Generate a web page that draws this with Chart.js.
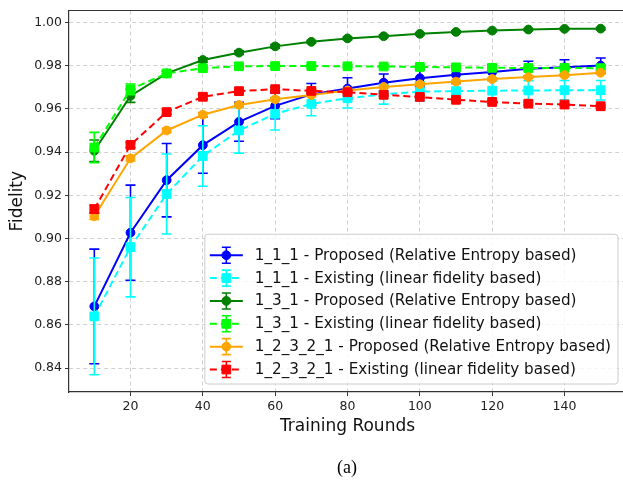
<!DOCTYPE html>
<html><head><meta charset="utf-8">
<script src="https://cdn.jsdelivr.net/npm/chart.js@4.4.0/dist/chart.umd.min.js"></script>
<style>
html,body{margin:0;padding:0;background:#fff;overflow:hidden;}
#wrap{position:relative;width:623px;height:481px;overflow:hidden;background:#fff;}
canvas{position:absolute;left:0;top:0;}
#cap{position:absolute;left:297px;width:100px;top:456px;text-align:center;font-family:'Liberation Serif','Times New Roman',serif;font-size:18px;line-height:22px;color:#000;}
</style></head><body>
<div id="wrap"><canvas id="c" width="634" height="481"></canvas><div id="cap">(a)</div></div>
<script>
// ---- data ----
const rounds = [10,20,30,40,50,60,70,80,90,100,110,120,130,140,150];
const xTickValues = [20,40,60,80,100,120,140];
const yTickValues = [0.84,0.86,0.88,0.90,0.92,0.94,0.96,0.98,1.00];

const labels = [
  '1_1_1 - Proposed (Relative Entropy based)',
  '1_1_1 - Existing (linear fidelity based)',
  '1_3_1 - Proposed (Relative Entropy based)',
  '1_3_1 - Existing (linear fidelity based)',
  '1_2_3_2_1 - Proposed (Relative Entropy based)',
  '1_2_3_2_1 - Existing (linear fidelity based)'
];

const p111 = [0.8686,0.9027,0.9270,0.9432,0.9540,0.9614,0.9667,0.9694,0.9721,0.9742,0.9758,0.9770,0.9785,0.9792,0.9800];
const p111Err = [0.0265,0.0220,0.0170,0.0130,0.0090,0.0060,0.0050,0.0050,0.0040,0.0040,0.0040,0.0035,0.0035,0.0035,0.0035];

const e111 = [0.8640,0.8960,0.9206,0.9382,0.9500,0.9577,0.9623,0.9649,0.9667,0.9680,0.9682,0.9684,0.9685,0.9686,0.9686];
const e111Err = [0.0270,0.0230,0.0185,0.0140,0.0105,0.0075,0.0055,0.0045,0.0045,0.0045,0.0045,0.0045,0.0045,0.0045,0.0045];

const p131 = [0.9406,0.9660,0.9764,0.9826,0.9860,0.9889,0.9910,0.9926,0.9936,0.9947,0.9956,0.9962,0.9967,0.9970,0.9971];
const p131Err = [0.0050,0.0030,0.0010,0.0010,0.0008,0.0008,0.0006,0.0006,0.0006,0.0005,0.0005,0.0005,0.0005,0.0005,0.0005];

const e131 = [0.9421,0.9690,0.9764,0.9788,0.9797,0.9798,0.9798,0.9797,0.9796,0.9794,0.9792,0.9790,0.9789,0.9789,0.9788];
const e131Err = [0.0070,0.0025,0.0010,0.0010,0.0008,0.0008,0.0006,0.0006,0.0006,0.0006,0.0006,0.0006,0.0006,0.0006,0.0006];

const p12321 = [0.9103,0.9371,0.9500,0.9573,0.9618,0.9644,0.9664,0.9685,0.9701,0.9714,0.9726,0.9738,0.9747,0.9756,0.9767];
const p12321Err = [0.0015,0.0012,0.0010,0.0010,0.0008,0.0008,0.0008,0.0006,0.0006,0.0006,0.0006,0.0006,0.0006,0.0006,0.0006];

const e12321 = [0.9136,0.9433,0.9585,0.9656,0.9682,0.9691,0.9683,0.9677,0.9665,0.9655,0.9642,0.9632,0.9624,0.9620,0.9612];
const e12321Err = [0.0018,0.0012,0.0010,0.0010,0.0008,0.0008,0.0008,0.0006,0.0006,0.0006,0.0006,0.0006,0.0006,0.0006,0.0006];

const seriesValues = [p111, e111, p131, e131, p12321, e12321];
const seriesErrors = [p111Err, e111Err, p131Err, e131Err, p12321Err, e12321Err];
const colors = ['#0000ff','#00ffff','#008000','#00ff00','#ffa500','#ff0000'];
const dashed = [false,true,false,true,false,true];

const FONT = "'DejaVu Sans', Verdana, sans-serif";

const datasets = seriesValues.map((vals, i) => ({
  label: labels[i],
  data: vals.map((v, j) => ({x: rounds[j], y: v})),
  errors: seriesErrors[i],
  borderColor: colors[i],
  backgroundColor: colors[i],
  borderWidth: 2,
  borderDash: dashed[i] ? [7,4] : [],
  pointStyle: dashed[i] ? 'rect' : 'circle',
  pointRadius: dashed[i] ? 6.2 : 4.4,
  pointBorderWidth: 1,
  pointBorderColor: colors[i],
  pointBackgroundColor: colors[i],
  pointHoverRadius: dashed[i] ? 6.2 : 4.4,
  tension: 0,
  fill: false,
  order: 6 - i
}));

const errorBarPlugin = {
  id: 'errorBars',
  beforeDatasetDraw(chart, args) {
    const ds = chart.data.datasets[args.index];
    const xs = chart.scales.x, ys = chart.scales.y;
    const ctx = chart.ctx;
    ctx.save();
    ctx.beginPath();
    ctx.rect(chart.chartArea.left, chart.chartArea.top, chart.chartArea.right - chart.chartArea.left, chart.chartArea.bottom - chart.chartArea.top);
    ctx.clip();
    ctx.strokeStyle = ds.borderColor;
    ctx.lineWidth = 1.6;
    ctx.setLineDash([]);
    ds.data.forEach((p, j) => {
      const e = ds.errors[j];
      const x = xs.getPixelForValue(p.x);
      const y1 = ys.getPixelForValue(p.y + e);
      const y2 = ys.getPixelForValue(p.y - e);
      ctx.beginPath();
      ctx.moveTo(x, y1); ctx.lineTo(x, y2);
      ctx.moveTo(x - 5, y1); ctx.lineTo(x + 5, y1);
      ctx.moveTo(x - 5, y2); ctx.lineTo(x + 5, y2);
      ctx.stroke();
    });
    ctx.restore();
  }
};

const framePlugin = {
  id: 'frame',
  afterDatasetsDraw(chart) {
    const ctx = chart.ctx, a = chart.chartArea;
    ctx.save();
    ctx.strokeStyle = '#333';
    ctx.lineWidth = 1.2;
    ctx.beginPath();
    ctx.moveTo(a.left, a.top); ctx.lineTo(a.right, a.top);
    ctx.lineTo(a.right, a.bottom);
    ctx.stroke();
    ctx.restore();
  }
};

const legendPlugin = {
  id: 'boxLegend',
  afterDraw(chart) {
    const ctx = chart.ctx, a = chart.chartArea;
    const dsList = chart.data.datasets;
    ctx.save();
    ctx.font = '15.2px ' + FONT;
    let maxW = 0;
    dsList.forEach(d => { maxW = Math.max(maxW, ctx.measureText(d.label).width); });
    const rowH = 22.85;
    const w = 50 + maxW + 7;
    const h = 21 + rowH * (dsList.length - 1) + 14.5;
    const right = a.right - 8;
    const bottom = a.bottom - 8;
    const left = right - w, top = bottom - h;
    ctx.beginPath();
    ctx.roundRect(left, top, w, h, 3);
    ctx.fillStyle = 'rgba(255,255,255,0.8)';
    ctx.fill();
    ctx.strokeStyle = '#cccccc';
    ctx.lineWidth = 1;
    ctx.stroke();
    dsList.forEach((d, i) => {
      const y = top + 21 + i * rowH;
      const hx = left + 21.5;
      ctx.strokeStyle = d.borderColor;
      ctx.lineWidth = 2;
      ctx.setLineDash(d.borderDash);
      ctx.beginPath();
      ctx.moveTo(left + 5, y); ctx.lineTo(left + 38, y);
      ctx.stroke();
      ctx.setLineDash([]);
      ctx.lineWidth = 1.6;
      ctx.beginPath();
      ctx.moveTo(hx, y - 8); ctx.lineTo(hx, y + 8);
      ctx.moveTo(hx - 4.5, y - 8); ctx.lineTo(hx + 4.5, y - 8);
      ctx.moveTo(hx - 4.5, y + 8); ctx.lineTo(hx + 4.5, y + 8);
      ctx.stroke();
      ctx.fillStyle = d.pointBackgroundColor;
      ctx.strokeStyle = d.pointBorderColor;
      ctx.lineWidth = 1;
      Chart.helpers.drawPoint(ctx, {pointStyle: d.pointStyle, radius: d.pointRadius, borderWidth: 1, rotation: 0}, hx, y);
      ctx.fillStyle = '#111';
      ctx.textBaseline = 'middle';
      ctx.textAlign = 'left';
      ctx.font = '15.2px ' + FONT;
      ctx.fillText(d.label, left + 50, y + 0.5);
    });
    ctx.restore();
  }
};

new Chart(document.getElementById('c'), {
  type: 'line',
  data: { datasets },
  options: {
    responsive: false,
    animation: false,
    devicePixelRatio: 1,
    layout: { padding: { top: 4, right: 8, left: 0, bottom: 0 } },
    plugins: { legend: { display: false }, tooltip: { enabled: false } },
    scales: {
      x: {
        type: 'linear',
        min: 3, max: 157,
        afterBuildTicks: s => { s.ticks = xTickValues.map(v => ({value: v})); },
        afterFit: s => { s.height = 89; },
        ticks: { color: '#222', font: { family: FONT, size: 12.5 }, padding: 3, maxRotation: 0 },
        grid: { color: 'rgba(185,185,185,0.75)', lineWidth: 0.9, tickColor: '#333', tickLength: 4, tickWidth: 1, tickBorderDash: [] },
        border: { display: true, color: '#333', width: 1.2, dash: [4,3] },
        title: { display: true, text: 'Training Rounds', color: '#111', font: { family: FONT, size: 17 }, padding: { top: 0, bottom: 43.8 } }
      },
      y: {
        type: 'linear',
        min: 0.829, max: 1.0055,
        afterBuildTicks: s => { s.ticks = yTickValues.map(v => ({value: v})); },
        afterFit: s => { s.width = 69; },
        ticks: { color: '#222', font: { family: FONT, size: 12.5 }, padding: 3, callback: v => v.toFixed(2) },
        grid: { color: 'rgba(185,185,185,0.75)', lineWidth: 0.9, tickColor: '#333', tickLength: 4, tickWidth: 1, tickBorderDash: [] },
        border: { display: true, color: '#333', width: 1.2, dash: [4,3] },
        title: { display: true, text: 'Fidelity', color: '#111', font: { family: FONT, size: 17 }, padding: { top: 7.3, bottom: 0 } }
      }
    }
  },
  plugins: [errorBarPlugin, framePlugin, legendPlugin]
});
</script>
</body></html>
